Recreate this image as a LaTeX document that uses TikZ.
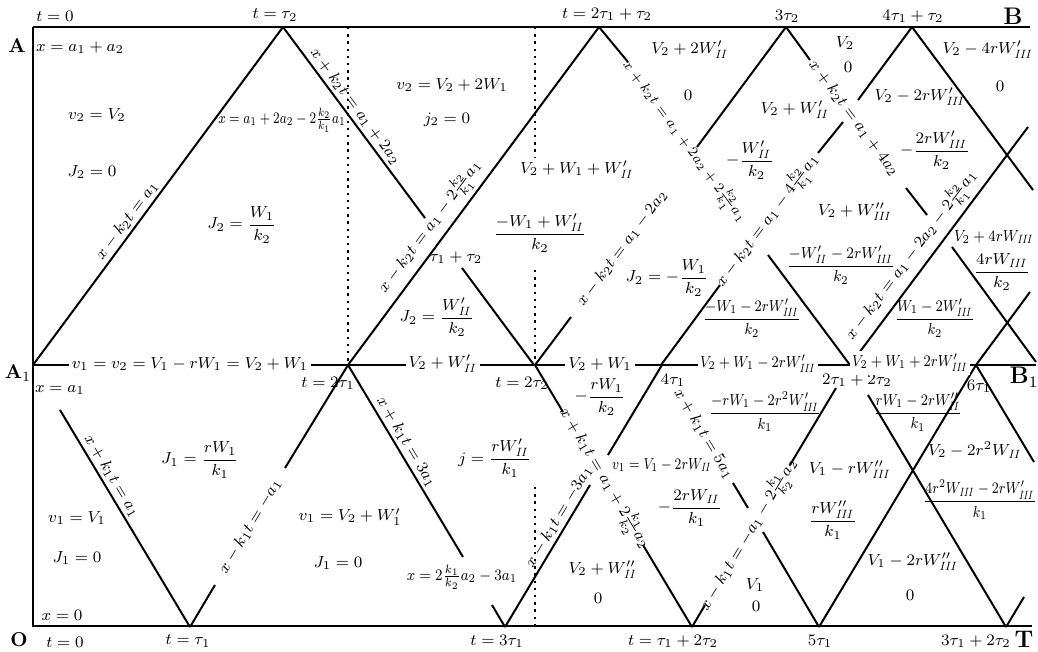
\documentclass[tikz,border=0pt]{standalone}
\usepackage{amsmath}
\newcommand{\sII}{\mathit{II}}
\newcommand{\sIII}{\mathit{III}}
\tikzstyle{wave} = [line width=1pt]
\tikzstyle{frame} = [line width=1.4pt]
\tikzstyle{guide} = [line width=0.8pt, dash pattern=on 1.2pt off 2.4pt]
\tikzstyle{txt} = [font=\footnotesize, inner sep=1pt]
\tikzstyle{tlab} = [font=\footnotesize, inner sep=1pt]
\tikzstyle{onmid} = [font=\footnotesize, fill=white, inner sep=1.5pt]
\tikzstyle{corner} = [font=\bfseries, inner sep=0pt]
\tikzstyle{urise} = [font=\footnotesize, rotate=53.4, inner sep=1pt]
\tikzstyle{ufall} = [font=\footnotesize, rotate=-53.4, inner sep=1pt]
\tikzstyle{lrise} = [font=\footnotesize, rotate=59.1, inner sep=1pt]
\tikzstyle{lfall} = [font=\footnotesize, rotate=-59.1, inner sep=1pt]
\tikzstyle{side} = [font=\footnotesize, sloped, above, inner sep=1.5pt]
\begin{document}
\begin{tikzpicture}[x=0.5pt,y=-0.5pt]
\useasboundingbox (0,0) rectangle (1038,652);
\draw[frame] (33,27) -- (33,626) -- (1032,626);
\draw[frame] (33,27) -- (1030,27);
\draw[frame] (33,365) -- (1036,365);
\draw[guide] (348,27) -- (348,365);
\draw[guide] (535,27) -- (535,157);
\draw[guide] (535,270) -- (535,365);
\draw[guide] (535,487) -- (535,626);

\draw[wave] (33,365) -- node[side,pos=0.41] (lu1) {$x-k_2t=a_1$} (283,27);
\draw[wave] (283,27) -- node[side,pos=0.45] (lu2) {$x+k_2t=a_1+2a_2$} (425,218);
\draw[wave] (462,268) -- (534,365);
\draw[wave] (348,365) -- node[side,pos=0.38] (lu3) {$x-k_2t=a_1-2\frac{k_2}{k_1}a_1$} (599,27);
\draw[wave] (599,27) -- (628,62);
\node[ufall,font=\scriptsize] (lu4) at (684,142) {$x+k_2t=a_1+2a_2+2\frac{k_2}{k_1}a_1$};
\draw[wave] (768,255) -- (850,365);
\draw[wave] (535,365) -- (571,317);
\node[urise] (lu5) at (622,248) {$x-k_2t=a_1-2a_2$};
\draw[wave] (697,147) -- (786,27);
\draw[wave] (786,27) -- (810,60);
\node[ufall] (lu6) at (854,118) {$x+k_2t=a_1+4a_2$};
\draw[wave] (906,188) -- (927,215);
\draw[wave] (952,247) -- (1036,362);
\draw[wave] (661,365) -- (720,285);
\node[urise] (lu7) at (768,221) {$x-k_2t=a_1-4\frac{k_2}{k_1}a_1$};
\draw[wave] (818,153) -- (843,122);
\draw[wave] (858,100) -- (912,27);
\draw[wave] (912,27) -- (1033,190);
\draw[wave] (850,365) -- node[side,pos=0.42] (lu9) {$x-k_2t=a_1-2a_2-2\frac{k_2}{k_1}a_1$} (1028,127);
\draw[wave] (976,365) -- (1030,292);

\draw[wave] (60,410) -- node[side,pos=0.33] (ll1) {$x+k_1t=a_1$} (190,627);
\draw[wave] (190,627) -- (215,585);
\node[lrise] (ll2) at (250,526) {$x-k_1t=-a_1$};
\draw[wave] (285,468) -- (348,365);
\draw[wave] (348,365) -- node[side,pos=0.43] (ll3) {$x+k_1t=3a_1$} (463,557);
\draw[wave] (492,605) -- (505,627);
\draw[wave] (505,627) -- node[side,pos=0.74] (ll4) {$x-k_1t=-3a_1$} (590,485);
\draw[wave] (608,455) -- (662,365);
\draw[wave] (535,365) -- (563,412);
\node[lfall] (ll5) at (604,479) {$x+k_1t=a_1+2\frac{k_1}{k_2}a_2$};
\draw[wave] (643,545) -- (692,627);
\draw[wave] (692,627) -- (705,605);
\node[lrise] (ll6) at (749,535) {$x-k_1t=-a_1-2\frac{k_1}{k_2}a_2$};
\draw[wave] (790,465) -- (836,388);
\node[lfall] (ll7) at (704,434) {$x+k_1t=5a_1$};
\draw[wave] (733,483) -- (748,508);
\draw[wave] (763,532) -- (819,627);
\draw[wave] (819,627) -- (976,365);
\draw[wave] (868,395) -- (1006,627);
\draw[wave] (1006,627) -- (1024,597);
\draw[wave] (976,365) -- (1034,462);

\node[corner] (pA) at (17,46) {A};
\node[corner] (pA1) at (18,373) {A$_1$};
\node[corner] (pO) at (19,640) {O};
\node[corner,font=\large\bfseries] (pB) at (1013,16) {B};
\node[corner,font=\large\bfseries] (pB1) at (1024,377) {B$_1$};
\node[corner,font=\large\bfseries] (pT) at (1024,639) {T};

\node[tlab] (tt0) at (55,16) {$t=0$};
\node[tlab] (tt1) at (275,15) {$t=\tau_2$};
\node[tlab] (tt2) at (607,14) {$t=2\tau_1+\tau_2$};
\node[tlab] (tt3) at (787,16) {$3\tau_2$};
\node[tlab] (tt4) at (913,16) {$4\tau_1+\tau_2$};
\node[tlab] (tm1) at (328,383) {$t=2\tau_1$};
\node[tlab] (tm2) at (522,383) {$t=2\tau_2$};
\node[tlab] (tm3) at (673,380) {$4\tau_1$};
\node[tlab] (tm4) at (857,380) {$2\tau_1+2\tau_2$};
\node[tlab] (tm5) at (979,386) {$6\tau_1$};
\node[tlab] (tb0) at (65,642) {$t=0$};
\node[tlab] (tb1) at (188,641) {$t=\tau_1$};
\node[tlab] (tb2) at (497,641) {$t=3\tau_1$};
\node[tlab] (tb3) at (673,641) {$t=\tau_1+2\tau_2$};
\node[tlab] (tb4) at (820,641) {$5\tau_1$};
\node[tlab] (tb5) at (976,641) {$3\tau_1+2\tau_2$};

\node[tlab] (xa12) at (80,48) {$x=a_1+a_2$};
\node[tlab] (xa1) at (60,390) {$x=a_1$};
\node[tlab] (x0) at (62,615) {$x=0$};
\node[txt,xscale=0.78] (xcross) at (282,120) {$x=a_1+2a_2-2\frac{k_2}{k_1}a_1$};
\node[txt,xscale=0.88] (xlow) at (462,577) {$x=2\frac{k_1}{k_2}a_2-3a_1$};
\node[txt] (ttt) at (456,258) {$\tau_1+\tau_2$};

\node[txt] (r1) at (97,115) {$v_2=V_2$};
\node[txt] (r2) at (92,172) {$J_2=0$};
\node[txt] (r3) at (242,225) {$J_2=\dfrac{W_1}{k_2}$};
\node[txt] (r4) at (452,85) {$v_2=V_2+2W_1$};
\node[txt] (r5) at (447,120) {$j_2=0$};
\node[txt] (r6) at (577,170) {$V_2+W_1+W'_{\sII}$};
\node[txt] (r7) at (540,233) {$\dfrac{-W_1+W'_{\sII}}{k_2}$};
\node[txt] (r8) at (437,317) {$J_2=\dfrac{W'_{\sII}}{k_2}$};
\node[txt] (r9) at (690,50) {$V_2+2W'_{\sII}$};
\node[txt] (r10) at (688,95) {$0$};
\node[txt] (r11) at (845,43) {$V_2$};
\node[txt] (r12) at (848,67) {$0$};
\node[txt] (r13) at (988,50) {$V_2-4rW'_{\sIII}$};
\node[txt] (r14) at (1000,86) {$0$};
\node[txt] (r15) at (795,110) {$V_2+W'_{\sII}$};
\node[txt] (r16) at (750,160) {$-\dfrac{W'_{\sII}}{k_2}$};
\node[txt] (r17) at (920,97) {$V_2-2rW'_{\sIII}$};
\node[txt] (r18) at (935,150) {$-\dfrac{2rW'_{\sIII}}{k_2}$};
\node[txt] (r19) at (667,278) {$J_2=-\dfrac{W_1}{k_2}$};
\node[txt] (r20) at (855,212) {$V_2+W''_{\sIII}$};
\node[txt,xscale=0.9] (r21) at (841,265) {$\dfrac{-W'_{\sII}-2rW'_{\sIII}}{k_2}$};
\node[txt,xscale=0.88] (r22) at (994,237) {$V_2+4rW_{\sIII}$};
\node[txt] (r23) at (1002,272) {$\dfrac{4rW_{\sIII}}{k_2}$};
\node[txt,xscale=0.85] (r24) at (752,318) {$\dfrac{-W_1-2rW'_{\sIII}}{k_2}$};
\node[txt,xscale=0.85] (r25) at (935,318) {$\dfrac{W_1-2W'_{\sIII}}{k_2}$};

\node[onmid] (m1) at (190,364) {$v_1=v_2=V_1-rW_1=V_2+W_1$};
\node[onmid] (m2) at (443,364) {$V_2+W'_{\sII}$};
\node[onmid] (m3) at (600,364) {$V_2+W_1$};
\node[onmid,xscale=0.85] (m4) at (758,364) {$V_2+W_1-2rW'_{\sIII}$};
\node[onmid,xscale=0.85] (m5) at (910,363) {$V_2+W_1+2rW'_{\sIII}$};

\node[txt] (s1) at (200,460) {$J_1=\dfrac{rW_1}{k_1}$};
\node[txt] (s2) at (77,518) {$v_1=V_1$};
\node[txt] (s3) at (77,558) {$J_1=0$};
\node[txt] (s4) at (350,517) {$v_1=V_2+W'_1$};
\node[txt] (s5) at (338,563) {$J_1=0$};
\node[txt] (s6) at (495,458) {$j=\dfrac{rW'_{\sII}}{k_1}$};
\node[txt] (s7) at (600,397) {$-\dfrac{rW_1}{k_2}$};
\node[txt,xscale=0.8] (s8) at (662,465) {$v_1=V_1-2rW_{\sII}$};
\node[txt] (s9) at (690,508) {$-\dfrac{2rW_{\sII}}{k_1}$};
\node[txt] (s10) at (603,570) {$V_2+W''_{\sII}$};
\node[txt] (s11) at (598,598) {$0$};
\node[txt,xscale=0.85] (s12) at (765,412) {$\dfrac{-rW_1-2r^2W'_{\sIII}}{k_1}$};
\node[txt] (s13) at (850,470) {$V_1-rW''_{\sIII}$};
\node[txt] (s14) at (833,520) {$\dfrac{rW''_{\sIII}}{k_1}$};
\node[txt] (s15) at (755,585) {$V_1$};
\node[txt] (s16) at (756,606) {$0$};
\node[txt,xscale=0.85] (s17) at (918,412) {$\dfrac{rW_1-2rW''_{\sII}}{k_1}$};
\node[txt] (s18) at (975,450) {$V_2-2r^2W_{\sII}$};
\node[txt,xscale=0.82] (s19) at (980,500) {$\dfrac{4r^2W_{\sIII}-2rW'_{\sIII}}{k_1}$};
\node[txt] (s20) at (913,562) {$V_1-2rW''_{\sIII}$};
\node[txt] (s21) at (910,595) {$0$};
\end{tikzpicture}
\end{document}
